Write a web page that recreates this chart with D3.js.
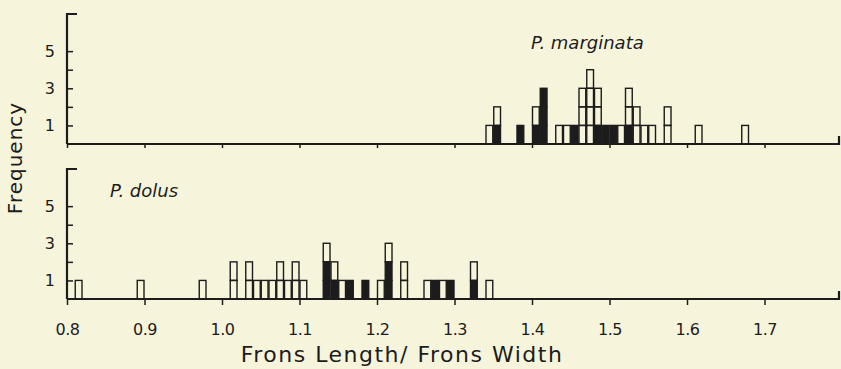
<!DOCTYPE html>
<html>
<head>
<meta charset="utf-8">
<script src="https://cdn.jsdelivr.net/npm/d3@7"></script>
<style>
  body { margin: 0; background: #f7f4dc; }
  svg { display: block; }
  text { font-family: "DejaVu Sans", sans-serif; fill: #1c1c1c; }
</style>
</head>
<body>
<script>
// bins are 0.01 wide, value = left edge of bin
const marginataBins  = [1.34, 1.35, 1.38, 1.40, 1.41, 1.43, 1.44, 1.45, 1.46, 1.47, 1.48, 1.49, 1.50, 1.51, 1.52, 1.53, 1.54, 1.55, 1.57, 1.61, 1.67];
const marginataBlack = [0,    1,    1,    1,    3,    0,    0,    1,    0,    0,    1,    1,    1,    0,    1,    0,    0,    0,    0,    0,    0];
const marginataOpen  = [1,    1,    0,    1,    0,    1,    1,    0,    3,    4,    2,    0,    0,    1,    2,    2,    1,    1,    2,    1,    1];

const dolusBins  = [0.81, 0.89, 0.97, 1.01, 1.03, 1.04, 1.05, 1.06, 1.07, 1.08, 1.09, 1.10, 1.13, 1.14, 1.15, 1.16, 1.18, 1.20, 1.21, 1.23, 1.26, 1.27, 1.28, 1.29, 1.32, 1.34];
const dolusBlack = [0,    0,    0,    0,    0,    0,    0,    0,    0,    0,    0,    0,    2,    1,    0,    1,    1,    0,    2,    0,    0,    1,    0,    1,    1,    0];
const dolusOpen  = [1,    1,    1,    2,    2,    1,    1,    1,    2,    1,    2,    1,    1,    1,    1,    0,    0,    1,    1,    2,    1,    0,    1,    0,    1,    1];

const xTicks = [0.8, 0.9, 1.0, 1.1, 1.2, 1.3, 1.4, 1.5, 1.6, 1.7];
const yTicks = [1, 2, 3, 4, 5];
const yLabels = [1, 3, 5];

const width = 841, height = 369;
const ink = '#1c1c1c';
const binW = 0.01;

const svg = d3.select('body').append('svg')
  .attr('width', width)
  .attr('height', height);

const x = d3.scaleLinear().domain([0.8, 1.8]).range([67, 842]);

const panels = [
  { name: 'P. marginata', bins: marginataBins, black: marginataBlack, open: marginataOpen,
    base: 144, top: 14, label: [531, 49], ticksDown: 4, showLabels: false },
  { name: 'P. dolus', bins: dolusBins, black: dolusBlack, open: dolusOpen,
    base: 299, top: 169, label: [110, 197], ticksDown: 6, showLabels: true }
];

panels.forEach(p => {
  const y = d3.scaleLinear().domain([0, 7]).range([p.base, p.top]);
  const g = svg.append('g');

  // one box per individual, black ones at the bottom
  const boxes = [];
  p.bins.forEach((b, i) => {
    for (let k = 0; k < p.black[i]; k++) boxes.push({ v: b, level: k, filled: true });
    for (let k = 0; k < p.open[i]; k++) boxes.push({ v: b, level: p.black[i] + k, filled: false });
  });

  g.selectAll('rect.box').data(boxes).enter()
    .append('rect')
    .attr('class', 'box')
    .attr('x', d => x(d.v) + 0.5)
    .attr('width', d => x(d.v + binW) - x(d.v) - 1)
    .attr('y', d => y(d.level + 1))
    .attr('height', d => y(d.level) - y(d.level + 1))
    .attr('fill', d => d.filled ? ink : 'none')
    .attr('stroke', ink)
    .attr('stroke-width', 1.4);

  // y axis
  const yAxis = d3.axisLeft(y)
    .tickValues(yTicks)
    .tickSize(-6)
    .tickPadding(12)
    .tickFormat(d => yLabels.includes(d) ? d : '');
  const ya = g.append('g')
    .attr('transform', `translate(${x(0.8)},0)`)
    .call(yAxis);
  ya.select('.domain').remove();
  ya.selectAll('line').attr('stroke', ink).attr('stroke-width', 1.5);
  ya.selectAll('text').style('font-size', '16px');

  g.append('path')
    .attr('d', `M${x(0.8) + 10},${p.top} H${x(0.8)} V${p.base}`)
    .attr('fill', 'none')
    .attr('stroke', ink)
    .attr('stroke-width', 2.2);

  // x axis
  const xAxis = d3.axisBottom(x)
    .tickValues(xTicks)
    .tickSize(p.ticksDown)
    .tickPadding(19)
    .tickFormat(p.showLabels ? d3.format('.1f') : '');
  const xa = g.append('g')
    .attr('transform', `translate(0,${p.base})`)
    .call(xAxis);
  xa.select('.domain').remove();
  xa.selectAll('line').attr('stroke', ink).attr('stroke-width', 1.5);
  xa.selectAll('text').style('font-size', '16px').style('letter-spacing', '-0.5px');

  g.append('path')
    .attr('d', `M${x(0.8)},${p.base} H${width - 2} V${p.base - 8}`)
    .attr('fill', 'none')
    .attr('stroke', ink)
    .attr('stroke-width', 2.2);

  g.append('text')
    .attr('x', p.label[0])
    .attr('y', p.label[1])
    .style('font-size', '18px')
    .style('font-style', 'italic')
    .text(p.name);
});

svg.append('text')
  .attr('transform', 'translate(22,158) rotate(-90)')
  .attr('text-anchor', 'middle')
  .style('font-size', '20px')
  .style('letter-spacing', '1px')
  .text('Frequency');

svg.append('text')
  .attr('x', 402)
  .attr('y', 362)
  .attr('text-anchor', 'middle')
  .style('font-size', '22px')
  .style('letter-spacing', '1.5px')
  .text('Frons Length/ Frons Width');
</script>
</body>
</html>
